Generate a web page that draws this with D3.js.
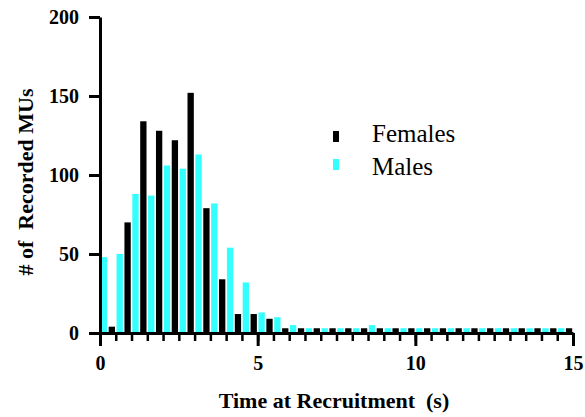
<!DOCTYPE html>
<html>
<head>
<meta charset="utf-8">
<script src="https://cdn.jsdelivr.net/npm/d3@7"></script>
<style>
html,body{margin:0;padding:0;background:#fff;}
svg{display:block;}
</style>
</head>
<body>
<svg id="chart" width="585" height="417" font-family="Times New Roman"></svg>
<script>
// Bin start times (s), 0.5 s bins from 0 to 15
const binStarts = d3.range(0, 30).map(i => i * 0.5);
const binWidth = 0.5;
// Counts per bin
const females = [4,70,134,128,122,152,79,34,12,12,9,3,3,3,3,3,3,3,3,3,3,3,3,3,3,3,3,3,3,3];
const males   = [48,50,88,87,106,104,113,82,54,32,13,10,5,3,3,3,3,5,3,3,3,3,3,3,3,3,3,3,3,3];
const seriesNames = ["Males", "Females"];
const legendNames = ["Females", "Males"];
const yTicks = [0, 50, 100, 150, 200];
const xTicks = [0, 5, 10, 15];
const xMinorTicks = d3.range(0, 30.5).map(i => i * 0.5);
const colors = {Females: "#000000", Males: "#33ffff"};

const svg = d3.select("#chart");
const x = d3.scaleLinear().domain([0, 15]).range([100, 573]);
const y = d3.scaleLinear().domain([0, 200]).range([333, 17]);
const FONT = "Times New Roman";

// bars: within each bin, two slots (Males first, then Females)
const slot = d3.scaleBand().domain(seriesNames).range([0, 1]).paddingInner(0.2).paddingOuter(0.1);
const seriesData = {Males: males, Females: females};
seriesNames.forEach(name => {
  svg.append("g").selectAll("rect")
    .data(binStarts.map((b, i) => ({b, v: seriesData[name][i]})))
    .join("rect")
    .attr("x", d => x(d.b) + slot(name) * (x(binWidth) - x(0)))
    .attr("width", slot.bandwidth() * (x(binWidth) - x(0)))
    .attr("y", d => y(d.v))
    .attr("height", d => y(0) - y(d.v))
    .attr("fill", colors[name]);
});

function styleText(sel, size, weight) {
  sel.attr("font-family", FONT).attr("font-size", size).attr("font-weight", weight).attr("fill", "#000");
}

// y axis
const yAxis = svg.append("g").attr("transform", `translate(${x(0)},0)`)
  .call(d3.axisLeft(y).tickValues(yTicks).tickSize(11).tickSizeOuter(0).tickPadding(10));
yAxis.attr("font-family", FONT).attr("font-size", 20);
yAxis.select(".domain").attr("stroke-width", 3);
yAxis.selectAll(".tick line").attr("stroke-width", 3);
styleText(yAxis.selectAll("text"), 20, "bold");

// x axis minor ticks
const xMinor = svg.append("g").attr("transform", `translate(0,${y(0)})`)
  .call(d3.axisBottom(x).tickValues(xMinorTicks).tickSize(8).tickSizeOuter(0).tickFormat(""));
xMinor.attr("font-family", FONT);
xMinor.select(".domain").remove();
xMinor.selectAll(".tick line").attr("stroke-width", 2.5);

// x axis major
const xAxis = svg.append("g").attr("transform", `translate(0,${y(0)})`)
  .call(d3.axisBottom(x).tickValues(xTicks).tickSize(13).tickSizeOuter(0).tickPadding(10).tickFormat(d3.format("d")));
xAxis.attr("font-family", FONT).attr("font-size", 20);
xAxis.select(".domain").attr("stroke-width", 3);
xAxis.selectAll(".tick line").attr("stroke-width", 3);
styleText(xAxis.selectAll("text"), 20, "bold");

// axis titles
const xt = svg.append("text")
  .attr("x", 334).attr("y", 408)
  .attr("text-anchor", "middle")
  .attr("xml:space", "preserve")
  .text("Time at Recruitment  (s)");
styleText(xt, 22, "bold");

const yt = svg.append("text")
  .attr("transform", "translate(33,182) rotate(-90)")
  .attr("text-anchor", "middle")
  .attr("xml:space", "preserve")
  .text("# of  Recorded MUs");
styleText(yt, 22, "bold");

// legend
const leg = svg.append("g");
legendNames.forEach((name, i) => {
  leg.append("rect")
    .attr("x", 333).attr("y", 131 + i * 28)
    .attr("width", 6).attr("height", 11)
    .attr("fill", colors[name]);
  const t = leg.append("text")
    .attr("x", 372).attr("y", 142 + i * 33)
    .text(name);
  styleText(t, 25, "normal");
});
</script>
</body>
</html>
